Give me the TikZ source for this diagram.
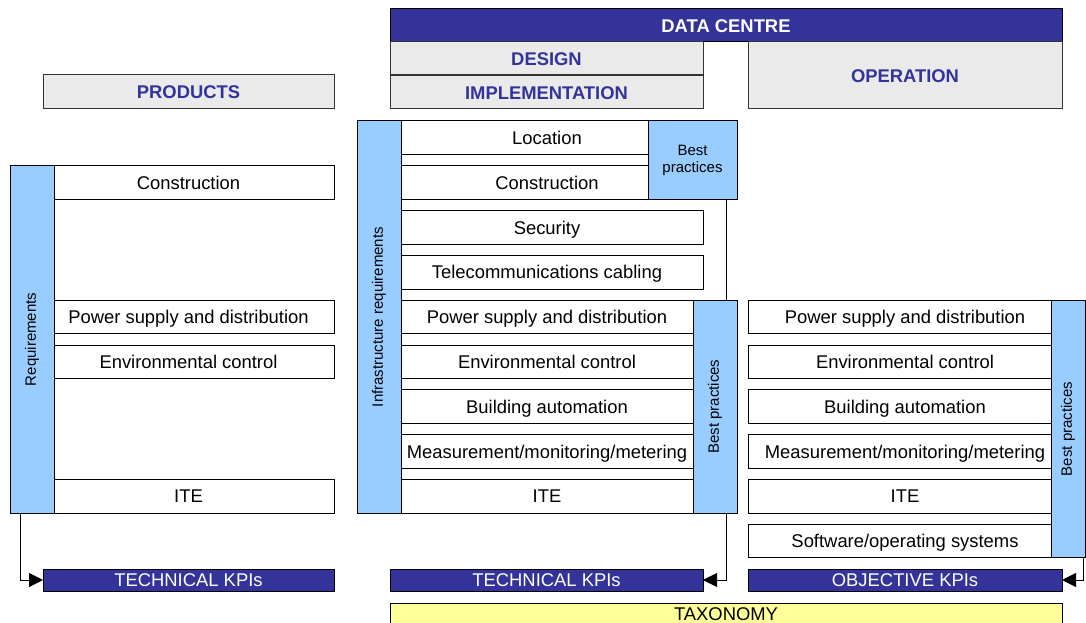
\documentclass[tikz,border=0pt]{standalone}
\usepackage{fontspec}
\setmainfont{Liberation Sans}
\usepackage{graphicx}
\usetikzlibrary{arrows.meta}
\definecolor{dkblue}{HTML}{333399}
\definecolor{ltblue}{HTML}{99CCFF}
\definecolor{hdgray}{HTML}{EAEAEA}
\definecolor{taxyel}{HTML}{FFFF99}
\newcommand\bx[7]{%
  \pgfmathsetmacro\bxcx{(#2+#4)/2}\pgfmathsetmacro\bxcy{(#3+#5)/2}%
  \pgfmathsetmacro\bxww{#4-#2}\pgfmathsetmacro\bxhh{#5-#3}%
  \node[#6, minimum width=\bxww pt, minimum height=\bxhh pt] (#1) at (\bxcx,\bxcy) {#7};}
\begin{document}
\begin{tikzpicture}[x=1pt,y=-1pt,
  base/.style={draw=black, line width=1pt, inner sep=0pt, outer sep=0pt, align=center,
    font=\fontsize{18.4}{20}\selectfont},
  capc/.style={text height=13.2pt, text depth=0pt},
  item/.style={base, capc, fill=white},
  header/.style={base, capc, draw=black!80, fill=hdgray, text=dkblue, font=\fontsize{18.4}{20}\selectfont\bfseries},
  topbar/.style={base, capc, fill=dkblue, text=white, font=\fontsize{18.4}{20}\selectfont\bfseries},
  kpi/.style={base, capc, fill=dkblue, text=white},
  side/.style={base, fill=ltblue, font=\fontsize{15}{17}\selectfont},
  tax/.style={base, fill=taxyel},
  conn/.style={draw=black, line width=1pt},
  arr/.style={conn, -{Triangle[length=14pt,width=14pt]}}
]
\useasboundingbox (0,0) rectangle (1086,623);
\fill[white] (0,0) rectangle (1086,623);

% headers
\bx{dc}{390}{9}{1062}{42}{topbar}{DATA CENTRE}
\bx{design}{390}{42}{703}{75}{header}{DESIGN}
\bx{impl}{390}{76}{703}{109}{header}{IMPLEMENTATION}
\bx{oper}{748}{42}{1062}{109}{header}{OPERATION}
\bx{prod}{43}{75}{334}{109}{header}{PRODUCTS}

% left column
\bx{lcon}{43}{165.8}{334}{199.4}{item}{Construction}
\bx{lpow}{43}{300.2}{334}{333.8}{item}{Power supply and distribution}
\bx{lenv}{43}{345}{334}{378.6}{item}{Environmental control}
\bx{lite}{43}{479.4}{334}{513}{item}{ITE}
\bx{req}{10}{165.8}{54}{513}{side}{\rotatebox{90}{Requirements}}
\bx{lkpi}{43}{569}{334}{591}{kpi}{TECHNICAL KPIs}

% middle column
\bx{mloc}{401}{121}{693}{154.6}{item}{Location}
\bx{mcon}{401}{165.8}{693}{199.4}{item}{Construction}
\bx{topbp}{648}{121}{737}{199.4}{side}{Best\\practices}
\bx{msec}{401}{210.6}{703}{244.2}{item}{Security\hspace*{10pt}}
\bx{mtel}{401}{255.4}{703}{289}{item}{Telecommunications cabling\hspace*{10pt}}
\bx{mpow}{401}{300.2}{693}{333.8}{item}{Power supply and distribution}
\bx{menv}{401}{345}{693}{378.6}{item}{Environmental control}
\bx{mbld}{401}{389.8}{693}{423.4}{item}{Building automation}
\bx{mmea}{401}{434.6}{693}{468.2}{item}{Measurement/monitoring/metering}
\bx{mite}{401}{479.4}{693}{513}{item}{ITE}
\bx{infra}{357}{121}{401}{513}{side}{\rotatebox{90}{Infrastructure requirements}}
\bx{midbp}{693}{300.2}{737}{513}{side}{\rotatebox{90}{Best practices}}
\bx{mkpi}{390}{569}{703}{591}{kpi}{TECHNICAL KPIs}
\bx{taxo}{390}{603}{1062}{640}{tax}{}
\node[font=\fontsize{18.4}{20}\selectfont, text height=13.2pt, text depth=0pt, inner sep=0pt] (taxt) at (726,613.5) {TAXONOMY};

% right column
\bx{rpow}{748}{300.2}{1062}{333.8}{item}{Power supply and distribution}
\bx{renv}{748}{345}{1062}{378.6}{item}{Environmental control}
\bx{rbld}{748}{389.8}{1062}{423.4}{item}{Building automation}
\bx{rmea}{748}{434.6}{1062}{468.2}{item}{Measurement/monitoring/metering}
\bx{rite}{748}{479.4}{1062}{513}{item}{ITE}
\bx{rsw}{748}{524.2}{1062}{557.8}{item}{Software/operating systems}
\bx{rightbp}{1051}{300.2}{1085}{557.8}{side}{\rotatebox{90}{Best practices}}
\bx{okpi}{748}{569}{1062}{591}{kpi}{OBJECTIVE KPIs}

% connectors
\draw[arr] ([xshift=10pt]req.south west) |- (lkpi.west);
\draw[conn] ([xshift=-11pt]topbp.south east) -- ([xshift=-11pt]midbp.north east);
\draw[arr] ([xshift=-11pt]midbp.south east) |- (mkpi.east);
\draw[arr] ([xshift=-2pt]rightbp.south east) |- (okpi.east);
\end{tikzpicture}
\end{document}
